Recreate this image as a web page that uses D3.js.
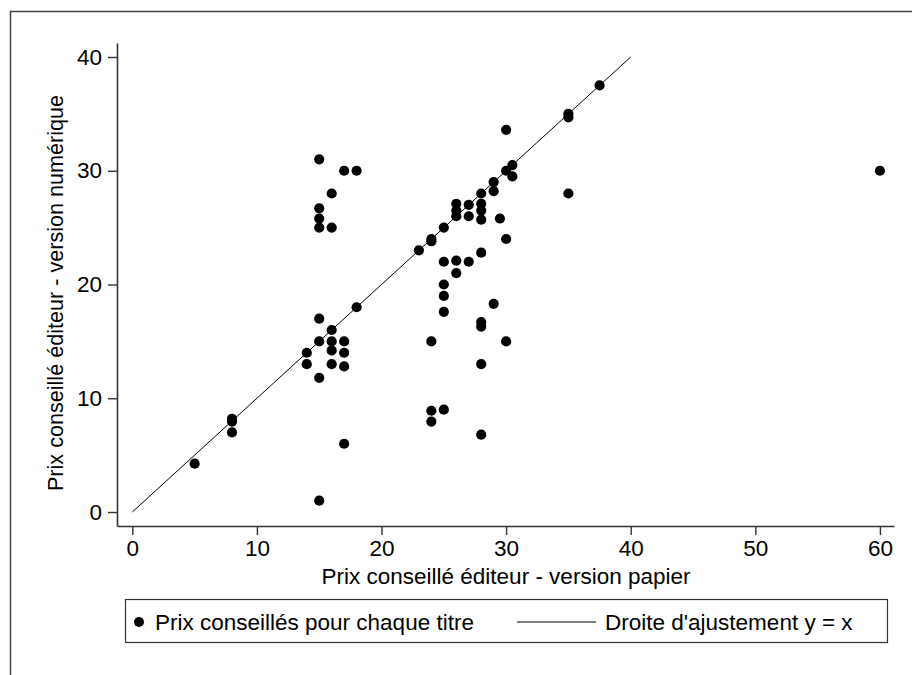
<!DOCTYPE html>
<html><head><meta charset="utf-8">
<script src="https://cdn.jsdelivr.net/npm/d3@7"></script>
<style>body{margin:0;background:#fff}svg{display:block}text{font-family:"Liberation Sans",Arial,sans-serif;fill:#000}</style>
</head><body>
<script>
const paperPrice = [5,8,8,8,14,14,15,15,15,15,15,15,15,15,16,16,16,16,16,16,17,17,17,17,17,18,18,23,24,24,24,24,24,25,25,25,25,25,25,26,26,26,26,26,27,27,27,28,28,28,28,28,28,28,28,28,29,29,29,29.5,30,30,30,30,30.5,30.5,35,35,35,37.5,60];
const digitalPrice = [4.25,8.2,7.95,7,14,13,31,26.7,25.8,25,17,15,11.8,1,28,25,16,15,14.2,13,30,15,14,12.8,6,30,18,23,24,23.8,15,8.9,7.95,25,22,20,19,17.6,9,27.1,26.5,26,22.1,21,27,26,22,28,27.1,26.5,25.7,22.8,16.7,16.3,13,6.8,29,28.2,18.3,25.8,33.6,30,24,15,30.5,29.5,35,34.7,28,37.5,30];
const fitLine = [[0,0],[40,40]];
const xTicks = [0,10,20,30,40,50,60];
const yTicks = [0,10,20,30,40];
const xTitle = "Prix conseillé éditeur - version papier";
const yTitle = "Prix conseillé éditeur - version numérique";
const legendLabels = ["Prix conseillés pour chaque titre","Droite d'ajustement y = x"];

const W=912,H=675,FS=22.5;
const svg=d3.select("body").append("svg").attr("width",W).attr("height",H);
// outer frame
svg.append("path").attr("d","M10.5,675V11.5H912").attr("fill","none").attr("stroke","#444").attr("stroke-width",1.5);

const x=d3.scaleLinear().domain([-1.23,61.13]).range([117,894]);
const y=d3.scaleLinear().domain([-1.23,41.23]).range([526,43]);

const xAxis=svg.append("g").attr("transform","translate(0,526)")
  .call(d3.axisBottom(x).tickValues(xTicks).tickSize(9).tickSizeOuter(0).tickPadding(5));
const yAxis=svg.append("g").attr("transform","translate(117,0)")
  .call(d3.axisLeft(y).tickValues(yTicks).tickSize(9).tickSizeOuter(0).tickPadding(6));
[xAxis,yAxis].forEach(g=>{
  g.select(".domain").attr("stroke","#333").attr("stroke-width",1.6);
  g.selectAll(".tick line").attr("stroke","#333").attr("stroke-width",1.4);
  g.selectAll(".tick text").attr("font-size",FS).attr("font-family","Liberation Sans, Arial, sans-serif").attr("fill","#000");
});

svg.append("text").attr("x",506).attr("y",584).attr("text-anchor","middle").attr("font-size",FS).text(xTitle);
svg.append("text").attr("transform","translate(63,293) rotate(-90)").attr("text-anchor","middle").attr("font-size",21.6).text(yTitle);

// fit line
svg.append("line").attr("x1",x(fitLine[0][0])).attr("y1",y(fitLine[0][1])).attr("x2",x(fitLine[1][0])).attr("y2",y(fitLine[1][1]))
  .attr("stroke","#000").attr("stroke-width",1);
// points
svg.append("g").selectAll("circle").data(paperPrice.map((p,i)=>[p,digitalPrice[i]])).join("circle")
  .attr("cx",d=>x(d[0])).attr("cy",d=>y(d[1])).attr("r",5.1).attr("fill","#000");

// legend
const lg=svg.append("g");
lg.append("rect").attr("x",125.5).attr("y",599.5).attr("width",762).attr("height",43).attr("fill","#fff").attr("stroke","#333").attr("stroke-width",1.2);
lg.append("circle").attr("cx",139).attr("cy",622).attr("r",5).attr("fill","#000");
lg.append("text").attr("x",155).attr("y",630).attr("font-size",FS).text(legendLabels[0]);
lg.append("line").attr("x1",517).attr("x2",596).attr("y1",622).attr("y2",622).attr("stroke","#000").attr("stroke-width",1);
lg.append("text").attr("x",605).attr("y",630).attr("font-size",FS).text(legendLabels[1]);
</script>
</body></html>
